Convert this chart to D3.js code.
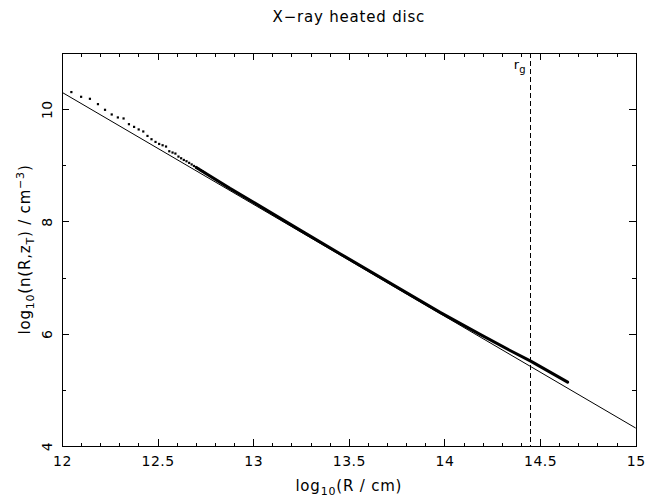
<!DOCTYPE html>
<html>
<head>
<meta charset="utf-8">
<script src="https://cdn.jsdelivr.net/npm/d3@7"></script>
<style>
  body { margin: 0; background: #fff; }
  text { font-family: "DejaVu Sans", sans-serif; fill: #000; }
</style>
</head>
<body>
<svg id="chart" width="660" height="503"></svg>
<script>
// Power-law fit to the density profile (log10 R, log10 n)
const fitLogR = [12, 15];
const fitLogN = [10.30, 4.32];

// Individual model samples in the inner disc, where they are still resolved
const dotLogR = [12.049, 12.100, 12.146, 12.188, 12.225, 12.260, 12.292, 12.322, 12.350, 12.377,
                 12.401, 12.425, 12.447, 12.468, 12.489, 12.508, 12.526, 12.544, 12.561, 12.578,
                 12.593, 12.609, 12.623, 12.637, 12.651, 12.665, 12.678, 12.690, 12.702, 12.714,
                 12.726, 12.737, 12.748];
const dotLogN = [10.304, 10.220, 10.184, 10.089, 9.988, 9.905, 9.852, 9.834, 9.732, 9.684,
                 9.638, 9.602, 9.523, 9.464, 9.416, 9.380, 9.357, 9.334, 9.250, 9.227,
                 9.209, 9.155, 9.125, 9.095, 9.072, 9.043, 9.015, 8.988, 8.962, 8.936,
                 8.911, 8.887, 8.863];

// Outer disc: samples so dense they merge into a band
const bandLogR = [12.702, 12.878, 13.035, 13.245, 13.454, 13.767, 13.977, 14.186, 14.343, 14.451, 14.644];
const bandLogN = [8.962, 8.589, 8.273, 7.845, 7.425, 6.799, 6.380, 5.988, 5.701, 5.512, 5.137];

// Gravitational radius
const rgLogR = 14.45;

// Axis ticks
const xMajor = [12, 12.5, 13, 13.5, 14, 14.5, 15];
const xLabels = ["12", "12.5", "13", "13.5", "14", "14.5", "15"];
const yMajor = [4, 6, 8, 10];
const yLabels = ["4", "6", "8", "10"];
const yMinor = [5, 7, 9];

const svg = d3.select("#chart");
const L = 62, R = 635.7, T = 53, B = 446;

const x = d3.scaleLinear().domain([12, 15]).range([L, R]);
const y = d3.scaleLinear().domain([4, 11]).range([B, T]);

const majorLen = 7, minorLen = 3.5;

function styleAxis(g) {
  g.selectAll("path.domain").attr("stroke", "#000").attr("stroke-width", 1).attr("shape-rendering", "crispEdges");
  g.selectAll(".tick line").attr("stroke", "#000").attr("stroke-width", 1).attr("shape-rendering", "crispEdges");
}

// bottom axis: minor + major
svg.append("g").attr("transform", `translate(0,${B})`)
  .call(d3.axisBottom(x).ticks(30).tickSize(-minorLen).tickSizeOuter(0).tickFormat(""))
  .call(styleAxis);
const xAx = svg.append("g").attr("transform", `translate(0,${B})`)
  .call(d3.axisBottom(x).tickValues(xMajor).tickSize(-majorLen).tickSizeOuter(0)
        .tickPadding(10).tickFormat((d, i) => xLabels[i]))
  .call(styleAxis);
xAx.selectAll("text").attr("font-size", 14).attr("font-family", "DejaVu Sans").attr("letter-spacing", 0.5);

// top axis
svg.append("g").attr("transform", `translate(0,${T})`)
  .call(d3.axisTop(x).ticks(30).tickSize(-minorLen).tickSizeOuter(0).tickFormat(""))
  .call(styleAxis);
svg.append("g").attr("transform", `translate(0,${T})`)
  .call(d3.axisTop(x).tickValues(xMajor).tickSize(-majorLen).tickSizeOuter(0).tickFormat(""))
  .call(styleAxis);

// left axis
svg.append("g").attr("transform", `translate(${L},0)`)
  .call(d3.axisLeft(y).tickValues(yMinor).tickSize(-minorLen).tickSizeOuter(0).tickFormat(""))
  .call(styleAxis);
const yAx = svg.append("g").attr("transform", `translate(${L},0)`)
  .call(d3.axisLeft(y).tickValues(yMajor).tickSize(-majorLen).tickSizeOuter(0).tickFormat((d, i) => yLabels[i]))
  .call(styleAxis);
yAx.selectAll("text")
  .attr("x", 0).attr("dy", null)
  .attr("transform", "translate(-10,0) rotate(-90)")
  .attr("text-anchor", "middle")
  .attr("font-size", 14).attr("font-family", "DejaVu Sans").attr("letter-spacing", 0.5);

// right axis
svg.append("g").attr("transform", `translate(${R},0)`)
  .call(d3.axisRight(y).tickValues(yMinor).tickSize(-minorLen).tickSizeOuter(0).tickFormat(""))
  .call(styleAxis);
svg.append("g").attr("transform", `translate(${R},0)`)
  .call(d3.axisRight(y).tickValues(yMajor).tickSize(-majorLen).tickSizeOuter(0).tickFormat(""))
  .call(styleAxis);

// fit line
const line = d3.line().x(d => x(d[0])).y(d => y(d[1]));
svg.append("path")
  .datum(d3.zip(fitLogR, fitLogN))
  .attr("d", line)
  .attr("fill", "none").attr("stroke", "#000").attr("stroke-width", 1);

// dense band of samples
svg.append("path")
  .datum(d3.zip(bandLogR, bandLogN))
  .attr("d", line)
  .attr("fill", "none").attr("stroke", "#000").attr("stroke-width", 3)
  .attr("stroke-linecap", "round").attr("stroke-linejoin", "round");

// resolved samples
svg.append("g").selectAll("rect")
  .data(d3.zip(dotLogR, dotLogN))
  .join("rect")
  .attr("x", d => x(d[0]) - 1.1).attr("y", d => y(d[1]) - 1.1)
  .attr("width", 2.2).attr("height", 2.2).attr("fill", "#000");

// r_g marker
svg.append("line")
  .attr("x1", x(rgLogR)).attr("x2", x(rgLogR))
  .attr("y1", y(11)).attr("y2", y(4))
  .attr("stroke", "#000").attr("stroke-width", 1)
  .attr("stroke-dasharray", "5,3").attr("shape-rendering", "crispEdges");
const rg = svg.append("text")
  .attr("x", x(rgLogR) - 5).attr("y", 69)
  .attr("text-anchor", "end").attr("font-size", 13);
rg.append("tspan").text("r");
rg.append("tspan").attr("font-size", 10).attr("dy", 4).text("g");

// title
svg.append("text")
  .attr("x", (L + R) / 2).attr("y", 22)
  .attr("text-anchor", "middle").attr("font-size", 15).attr("letter-spacing", 0.8)
  .text("X\u2212ray heated disc");

// x label
const xl = svg.append("text")
  .attr("x", (L + R) / 2).attr("y", 491)
  .attr("text-anchor", "middle").attr("font-size", 15).attr("letter-spacing", 0.8)
  .attr("xml:space", "preserve");
xl.append("tspan").text("log");
xl.append("tspan").attr("font-size", 11).attr("dy", 4).text("10");
xl.append("tspan").attr("dy", -4).text("(R / cm)");

// y label
const yl = svg.append("text")
  .attr("transform", `translate(30,${(T + B) / 2}) rotate(-90)`)
  .attr("text-anchor", "middle").attr("font-size", 15).attr("letter-spacing", 0.8)
  .attr("xml:space", "preserve");
yl.append("tspan").text("log");
yl.append("tspan").attr("font-size", 11).attr("dy", 4).text("10");
yl.append("tspan").attr("dy", -4).text("(n(R,z");
yl.append("tspan").attr("font-size", 11).attr("dy", 4).text("T");
yl.append("tspan").attr("dy", -4).text(") / cm");
yl.append("tspan").attr("font-size", 11).attr("dy", -6).text("\u22123");
yl.append("tspan").attr("dy", 6).text(")");
</script>
</body>
</html>
